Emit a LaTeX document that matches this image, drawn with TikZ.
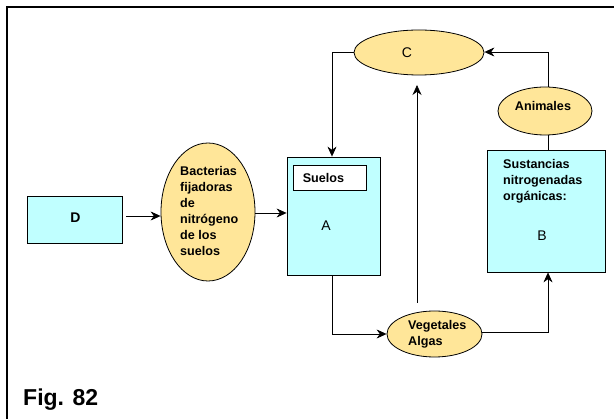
\documentclass[tikz,border=0pt]{standalone}
\usepackage{fontspec}
\setmainfont{Liberation Sans}
\usetikzlibrary{arrows.meta,shapes.geometric}
\definecolor{boxcyan}{RGB}{192,255,255}
\definecolor{ellyellow}{RGB}{255,230,153}
\tikzset{
  cbox/.style={draw=black,fill=boxcyan,line width=0.8pt,inner sep=0pt},
  yell/.style={draw=black,fill=ellyellow,ellipse,line width=0.8pt,inner sep=0pt},
  conn/.style={line width=0.7pt,-{Stealth[length=10pt,width=9pt]}},
  plain/.style={line width=0.7pt},
  btxt/.style={font=\fontsize{12.6}{16}\selectfont\bfseries,align=left,inner sep=0pt},
  rtxt/.style={font=\fontsize{14}{16}\selectfont,inner sep=0pt}
}
\begin{document}
\begin{tikzpicture}[x=1pt,y=-1pt]
\useasboundingbox (0,0) rectangle (614,419);
\clip (0,0) rectangle (614,419);
\draw[line width=1.4pt] (7,7) rectangle (640,440);
% nodes
\node[cbox,minimum width=95pt,minimum height=46.5pt] (D) at (75,220) {};
\node[btxt,font=\fontsize{14}{16}\selectfont\bfseries] (Dt) at (75.5,218) {D};
\node[yell,minimum width=94pt,minimum height=138pt] (Bac) at (208,212) {};
\node[btxt,anchor=west] (Bact) at (180,210.5) {Bacterias\\fijadoras\\de\\nitrógeno\\de los\\suelos};
\node[cbox,minimum width=93pt,minimum height=118pt] (A) at (333.5,216) {};
\node[draw=black,fill=white,line width=0.8pt,minimum width=73pt,minimum height=25pt,inner sep=0pt] (S) at (329.5,177.5) {};
\node[btxt] (St) at (323.5,178.5) {Suelos};
\node[rtxt] (At) at (326,226) {A};
\node[yell,minimum width=130pt,minimum height=45pt] (C) at (419,52.5) {};
\node[rtxt] (Ct) at (407,53) {C};
\node[yell,minimum width=94pt,minimum height=48pt] (An) at (545,111) {};
\node[btxt] (Ant) at (543,106.5) {Animales};
\node[cbox,minimum width=117.5pt,minimum height=122pt] (B) at (546.25,211) {};
\node[btxt,anchor=west] (Bt) at (503,181) {Sustancias\\nitrogenadas\\orgánicas:};
\node[rtxt] (Btt) at (542,236) {B};
\node[yell,minimum width=95pt,minimum height=46pt] (V) at (434.5,334) {};
\node[btxt,anchor=west] (Vt) at (408,334.5) {Vegetales\\Algas};
\node[font=\fontsize{23}{24}\selectfont\bfseries,anchor=west,inner sep=0pt] (F) at (23,400) {Fig. 82};
% coordinates
\coordinate (d1) at (126,216);
\coordinate (b1) at (255,213);
\coordinate (c1) at (332,52);
\coordinate (an1) at (548,52);
\coordinate (v1) at (332,334);
\coordinate (vu) at (417,303);
\coordinate (vt) at (417,85);
\coordinate (vr) at (548,332);
% connectors
\draw[conn] (d1) -- (Bac.west |- d1);
\draw[conn] (b1) -- (A.west |- b1);
\draw[conn] (C.west |- c1) -- (c1) -- (A.north -| c1);
\draw[conn] (An.north -| an1) -- (an1) -- (C.east |- an1);
\draw[plain] (An.south -| an1) -- (B.north -| an1);
\draw[conn] (A.south -| v1) -- (v1) -- (V.west |- v1);
\draw[conn] (vu) -- (vt);
\draw[conn] (V.east |- vr) -- (vr) -- (B.south -| vr);
\end{tikzpicture}
\end{document}
